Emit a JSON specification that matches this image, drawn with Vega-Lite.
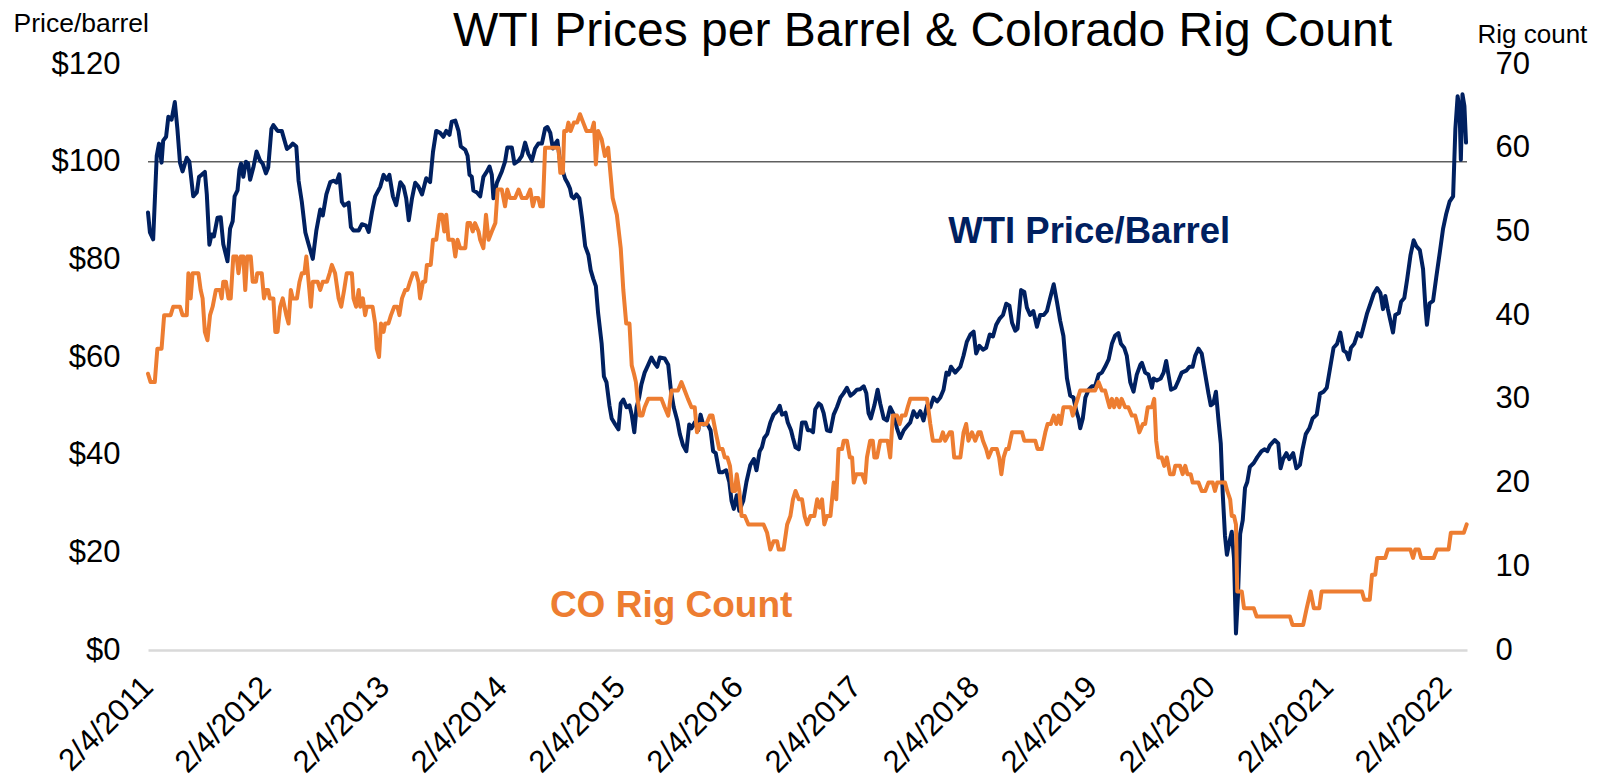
{
  "$schema": "https://vega.github.io/schema/vega-lite/v6.json",
  "width": 1319,
  "height": 586,
  "autosize": {"type": "none"},
  "padding": {"left": 148, "top": 64, "right": 130, "bottom": 131},
  "background": "white",
  "config": {"font": "Liberation Sans", "view": {"stroke": null}},
  "title": {"text": "WTI Prices per Barrel & Colorado Rig Count", "font": "Liberation Sans", "fontSize": 48, "fontWeight": "normal", "color": "#000000", "anchor": "middle", "frame": "group", "dx": 115, "dy": 103, "offset": 19, "baseline": "alphabetic"},
  "datasets": {
    "wti": [
      {"date":"2011-02-04","price":89.6},{"date":"2011-02-10","price":85.5},{"date":"2011-02-20","price":84.1},{"date":"2011-03-03","price":101.2},{"date":"2011-03-10","price":103.7},{"date":"2011-03-18","price":99.8},{"date":"2011-03-23","price":104.3},{"date":"2011-04-01","price":105.1},{"date":"2011-04-08","price":109.2},{"date":"2011-04-18","price":108.6},{"date":"2011-04-28","price":112.2},{"date":"2011-05-06","price":106.7},{"date":"2011-05-14","price":99.8},{"date":"2011-05-22","price":98.0},{"date":"2011-06-04","price":100.8},{"date":"2011-06-12","price":100.0},{"date":"2011-06-24","price":92.9},{"date":"2011-07-05","price":93.7},{"date":"2011-07-12","price":96.9},{"date":"2011-07-20","price":97.3},{"date":"2011-07-30","price":97.9},{"date":"2011-08-05","price":93.3},{"date":"2011-08-13","price":83.0},{"date":"2011-08-20","price":85.1},{"date":"2011-08-27","price":84.7},{"date":"2011-09-07","price":88.5},{"date":"2011-09-17","price":88.6},{"date":"2011-09-25","price":83.1},{"date":"2011-10-08","price":79.6},{"date":"2011-10-16","price":86.3},{"date":"2011-10-24","price":87.8},{"date":"2011-10-30","price":92.9},{"date":"2011-11-08","price":94.1},{"date":"2011-11-14","price":98.4},{"date":"2011-11-19","price":99.6},{"date":"2011-11-26","price":96.9},{"date":"2011-12-04","price":100.0},{"date":"2011-12-11","price":99.6},{"date":"2011-12-17","price":96.3},{"date":"2011-12-27","price":98.8},{"date":"2012-01-06","price":102.1},{"date":"2012-01-17","price":100.2},{"date":"2012-01-25","price":99.6},{"date":"2012-02-04","price":97.6},{"date":"2012-02-11","price":98.8},{"date":"2012-02-21","price":106.7},{"date":"2012-02-27","price":107.5},{"date":"2012-03-11","price":106.3},{"date":"2012-03-24","price":106.3},{"date":"2012-04-09","price":102.6},{"date":"2012-04-19","price":103.1},{"date":"2012-04-27","price":103.7},{"date":"2012-05-08","price":103.1},{"date":"2012-05-15","price":96.1},{"date":"2012-05-25","price":91.8},{"date":"2012-06-05","price":85.5},{"date":"2012-06-15","price":83.1},{"date":"2012-06-28","price":80.1},{"date":"2012-07-09","price":85.9},{"date":"2012-07-21","price":90.2},{"date":"2012-07-29","price":89.0},{"date":"2012-08-09","price":93.3},{"date":"2012-08-21","price":95.8},{"date":"2012-08-31","price":96.1},{"date":"2012-09-09","price":95.7},{"date":"2012-09-18","price":97.4},{"date":"2012-09-26","price":91.8},{"date":"2012-10-03","price":91.0},{"date":"2012-10-17","price":91.6},{"date":"2012-10-24","price":86.6},{"date":"2012-11-01","price":85.9},{"date":"2012-11-17","price":85.9},{"date":"2012-11-27","price":87.2},{"date":"2012-12-10","price":86.9},{"date":"2012-12-18","price":85.6},{"date":"2012-12-28","price":89.6},{"date":"2013-01-07","price":92.9},{"date":"2013-01-23","price":94.9},{"date":"2013-02-02","price":97.3},{"date":"2013-02-12","price":96.3},{"date":"2013-02-20","price":97.3},{"date":"2013-03-03","price":92.9},{"date":"2013-03-13","price":91.1},{"date":"2013-03-26","price":95.8},{"date":"2013-04-05","price":94.9},{"date":"2013-04-13","price":92.5},{"date":"2013-04-21","price":88.0},{"date":"2013-05-01","price":92.5},{"date":"2013-05-11","price":95.7},{"date":"2013-05-21","price":94.9},{"date":"2013-06-01","price":93.3},{"date":"2013-06-14","price":96.6},{"date":"2013-06-26","price":95.8},{"date":"2013-07-05","price":102.0},{"date":"2013-07-15","price":106.3},{"date":"2013-07-27","price":105.9},{"date":"2013-08-06","price":105.1},{"date":"2013-08-15","price":106.3},{"date":"2013-08-25","price":105.5},{"date":"2013-09-01","price":108.2},{"date":"2013-09-12","price":108.4},{"date":"2013-09-22","price":106.3},{"date":"2013-09-29","price":103.1},{"date":"2013-10-13","price":102.4},{"date":"2013-10-20","price":101.2},{"date":"2013-10-26","price":97.3},{"date":"2013-11-02","price":96.9},{"date":"2013-11-07","price":94.1},{"date":"2013-11-18","price":93.7},{"date":"2013-11-28","price":92.9},
      {"date":"2013-12-08","price":96.9},{"date":"2013-12-19","price":98.0},{"date":"2013-12-27","price":99.0},{"date":"2014-01-03","price":97.3},{"date":"2014-01-08","price":92.5},{"date":"2014-01-19","price":95.7},{"date":"2014-02-03","price":98.0},{"date":"2014-02-13","price":100.0},{"date":"2014-02-20","price":102.9},{"date":"2014-03-06","price":102.9},{"date":"2014-03-14","price":99.6},{"date":"2014-03-27","price":100.2},{"date":"2014-04-06","price":101.2},{"date":"2014-04-16","price":103.9},{"date":"2014-04-26","price":101.6},{"date":"2014-05-07","price":100.2},{"date":"2014-05-17","price":102.7},{"date":"2014-05-27","price":103.7},{"date":"2014-06-07","price":103.7},{"date":"2014-06-17","price":106.8},{"date":"2014-06-24","price":107.1},{"date":"2014-07-03","price":105.9},{"date":"2014-07-11","price":102.7},{"date":"2014-07-18","price":103.7},{"date":"2014-07-25","price":104.3},{"date":"2014-08-03","price":99.6},{"date":"2014-08-11","price":98.0},{"date":"2014-08-18","price":96.5},{"date":"2014-08-25","price":95.7},{"date":"2014-09-02","price":94.5},{"date":"2014-09-07","price":92.9},{"date":"2014-09-14","price":92.5},{"date":"2014-09-22","price":93.3},{"date":"2014-10-01","price":92.5},{"date":"2014-10-09","price":88.6},{"date":"2014-10-19","price":82.7},{"date":"2014-10-29","price":80.9},{"date":"2014-11-05","price":77.8},{"date":"2014-11-13","price":76.0},{"date":"2014-11-21","price":74.5},{"date":"2014-11-28","price":69.0},{"date":"2014-12-09","price":62.7},{"date":"2014-12-16","price":56.0},{"date":"2014-12-24","price":54.8},{"date":"2015-01-02","price":50.1},{"date":"2015-01-09","price":47.4},{"date":"2015-01-20","price":46.2},{"date":"2015-01-30","price":45.2},{"date":"2015-02-06","price":50.5},{"date":"2015-02-14","price":51.3},{"date":"2015-02-24","price":49.7},{"date":"2015-03-05","price":50.1},{"date":"2015-03-12","price":48.2},{"date":"2015-03-20","price":44.6},{"date":"2015-03-27","price":49.7},{"date":"2015-04-04","price":51.7},{"date":"2015-04-11","price":54.4},{"date":"2015-04-21","price":56.8},{"date":"2015-05-02","price":58.4},{"date":"2015-05-12","price":59.9},{"date":"2015-05-22","price":58.7},{"date":"2015-05-30","price":58.0},{"date":"2015-06-07","price":59.9},{"date":"2015-06-22","price":59.7},{"date":"2015-07-03","price":58.4},{"date":"2015-07-11","price":53.3},{"date":"2015-07-20","price":49.7},{"date":"2015-07-31","price":47.0},{"date":"2015-08-08","price":44.2},{"date":"2015-08-18","price":41.9},{"date":"2015-08-28","price":40.7},{"date":"2015-09-06","price":46.2},{"date":"2015-09-13","price":45.4},{"date":"2015-09-23","price":46.6},{"date":"2015-10-04","price":45.0},{"date":"2015-10-11","price":48.2},{"date":"2015-10-19","price":46.2},{"date":"2015-11-01","price":46.3},{"date":"2015-11-11","price":45.0},{"date":"2015-11-19","price":40.7},{"date":"2015-11-27","price":40.3},{"date":"2015-12-08","price":36.4},{"date":"2015-12-18","price":36.4},{"date":"2015-12-29","price":36.8},{"date":"2016-01-08","price":34.4},{"date":"2016-01-15","price":30.5},{"date":"2016-01-22","price":28.9},{"date":"2016-01-31","price":31.7},{"date":"2016-02-08","price":28.5},{"date":"2016-02-15","price":29.7},{"date":"2016-02-20","price":30.5},{"date":"2016-03-01","price":34.4},{"date":"2016-03-13","price":37.9},{"date":"2016-03-24","price":39.1},{"date":"2016-04-01","price":36.8},{"date":"2016-04-11","price":40.7},{"date":"2016-04-18","price":41.5},{"date":"2016-04-25","price":43.4},{"date":"2016-05-04","price":44.2},{"date":"2016-05-14","price":46.6},{"date":"2016-05-24","price":48.2},{"date":"2016-06-04","price":48.9},{"date":"2016-06-12","price":50.0},{"date":"2016-06-19","price":48.2},{"date":"2016-06-30","price":48.6},{"date":"2016-07-07","price":46.6},{"date":"2016-07-17","price":45.0},{"date":"2016-07-23","price":43.4},{"date":"2016-07-31","price":41.5},{"date":"2016-08-10","price":41.1},{"date":"2016-08-20","price":46.6},{"date":"2016-08-31","price":46.6},{"date":"2016-09-07","price":45.0},{"date":"2016-09-15","price":45.0},
      {"date":"2016-09-23","price":44.6},{"date":"2016-09-30","price":49.3},{"date":"2016-10-11","price":50.5},{"date":"2016-10-18","price":50.1},{"date":"2016-10-26","price":48.5},{"date":"2016-11-05","price":45.0},{"date":"2016-11-16","price":44.8},{"date":"2016-11-26","price":48.2},{"date":"2016-12-06","price":49.7},{"date":"2016-12-17","price":51.7},{"date":"2016-12-27","price":52.6},{"date":"2017-01-06","price":53.7},{"date":"2017-01-17","price":52.1},{"date":"2017-01-27","price":52.6},{"date":"2017-02-06","price":53.3},{"date":"2017-02-16","price":53.4},{"date":"2017-02-27","price":54.0},{"date":"2017-03-07","price":52.6},{"date":"2017-03-14","price":48.5},{"date":"2017-03-21","price":47.4},{"date":"2017-04-01","price":50.1},{"date":"2017-04-11","price":53.3},{"date":"2017-04-19","price":50.5},{"date":"2017-04-30","price":47.4},{"date":"2017-05-10","price":47.0},{"date":"2017-05-20","price":49.7},{"date":"2017-05-31","price":48.2},{"date":"2017-06-10","price":45.4},{"date":"2017-06-20","price":43.4},{"date":"2017-07-01","price":45.0},{"date":"2017-07-11","price":45.8},{"date":"2017-07-21","price":46.6},{"date":"2017-07-31","price":48.9},{"date":"2017-08-11","price":47.7},{"date":"2017-08-21","price":48.9},{"date":"2017-08-31","price":47.0},{"date":"2017-09-11","price":50.1},{"date":"2017-09-21","price":49.7},{"date":"2017-10-01","price":51.7},{"date":"2017-10-12","price":50.9},{"date":"2017-10-22","price":51.7},{"date":"2017-11-01","price":53.3},{"date":"2017-11-10","price":56.8},{"date":"2017-11-17","price":56.4},{"date":"2017-11-24","price":58.0},{"date":"2017-12-07","price":56.8},{"date":"2017-12-23","price":58.0},{"date":"2018-01-02","price":60.3},{"date":"2018-01-12","price":63.1},{"date":"2018-01-23","price":64.6},{"date":"2018-02-02","price":65.2},{"date":"2018-02-10","price":60.7},{"date":"2018-02-20","price":62.3},{"date":"2018-03-03","price":61.5},{"date":"2018-03-13","price":61.9},{"date":"2018-03-24","price":64.6},{"date":"2018-04-03","price":64.2},{"date":"2018-04-13","price":66.6},{"date":"2018-04-23","price":67.8},{"date":"2018-05-04","price":68.6},{"date":"2018-05-14","price":70.9},{"date":"2018-05-24","price":70.5},{"date":"2018-06-01","price":67.0},{"date":"2018-06-11","price":65.4},{"date":"2018-06-18","price":65.8},{"date":"2018-06-29","price":73.7},{"date":"2018-07-09","price":73.3},{"date":"2018-07-17","price":70.1},{"date":"2018-07-27","price":68.6},{"date":"2018-08-06","price":69.4},{"date":"2018-08-17","price":66.2},{"date":"2018-08-27","price":68.6},{"date":"2018-09-07","price":68.6},{"date":"2018-09-17","price":69.4},{"date":"2018-09-27","price":72.1},{"date":"2018-10-08","price":74.9},{"date":"2018-10-18","price":71.3},{"date":"2018-10-28","price":67.4},{"date":"2018-11-07","price":64.3},{"date":"2018-11-18","price":55.6},{"date":"2018-11-28","price":52.1},{"date":"2018-12-08","price":51.7},{"date":"2018-12-17","price":48.9},{"date":"2018-12-24","price":47.4},{"date":"2018-12-29","price":45.4},{"date":"2019-01-06","price":47.4},{"date":"2019-01-14","price":51.7},{"date":"2019-01-24","price":53.3},{"date":"2019-02-03","price":54.0},{"date":"2019-02-13","price":54.0},{"date":"2019-02-24","price":56.4},{"date":"2019-03-06","price":56.8},{"date":"2019-03-16","price":58.0},{"date":"2019-03-27","price":59.5},{"date":"2019-04-06","price":62.7},{"date":"2019-04-16","price":64.4},{"date":"2019-04-26","price":64.9},{"date":"2019-05-04","price":62.7},{"date":"2019-05-14","price":61.9},{"date":"2019-05-22","price":60.3},{"date":"2019-06-02","price":54.8},{"date":"2019-06-12","price":52.9},{"date":"2019-06-22","price":56.4},{"date":"2019-07-03","price":58.4},
      {"date":"2019-07-08","price":58.8},{"date":"2019-07-18","price":56.8},{"date":"2019-07-28","price":56.4},{"date":"2019-08-08","price":53.7},{"date":"2019-08-13","price":55.6},{"date":"2019-08-23","price":55.2},{"date":"2019-09-04","price":55.6},{"date":"2019-09-13","price":56.8},{"date":"2019-09-21","price":59.2},{"date":"2019-09-28","price":56.4},{"date":"2019-10-06","price":53.3},{"date":"2019-10-19","price":53.7},{"date":"2019-10-29","price":55.2},{"date":"2019-11-08","price":56.8},{"date":"2019-11-22","price":57.2},{"date":"2019-12-02","price":58.0},{"date":"2019-12-12","price":58.0},{"date":"2019-12-20","price":60.3},{"date":"2019-12-30","price":61.7},{"date":"2020-01-09","price":60.7},{"date":"2020-01-20","price":56.4},{"date":"2020-01-30","price":52.5},{"date":"2020-02-06","price":50.1},{"date":"2020-02-14","price":50.5},{"date":"2020-02-22","price":52.9},{"date":"2020-03-01","price":47.0},{"date":"2020-03-08","price":42.3},{"date":"2020-03-14","price":32.1},{"date":"2020-03-21","price":23.4},{"date":"2020-03-27","price":19.5},{"date":"2020-04-04","price":22.2},{"date":"2020-04-11","price":24.2},{"date":"2020-04-18","price":18.7},{"date":"2020-04-24","price":3.4},{"date":"2020-04-30","price":10.8},{"date":"2020-05-07","price":23.8},{"date":"2020-05-15","price":26.6},{"date":"2020-05-22","price":33.2},{"date":"2020-05-29","price":34.4},{"date":"2020-06-06","price":37.5},{"date":"2020-06-18","price":38.3},{"date":"2020-06-29","price":39.5},{"date":"2020-07-12","price":40.7},{"date":"2020-07-22","price":41.1},{"date":"2020-07-30","price":40.7},{"date":"2020-08-07","price":41.9},{"date":"2020-08-22","price":43.0},{"date":"2020-09-02","price":42.3},{"date":"2020-09-09","price":37.2},{"date":"2020-09-17","price":39.1},{"date":"2020-09-27","price":40.3},{"date":"2020-10-06","price":39.1},{"date":"2020-10-18","price":40.3},{"date":"2020-10-28","price":37.2},{"date":"2020-11-08","price":37.9},{"date":"2020-11-16","price":41.1},{"date":"2020-11-26","price":44.2},{"date":"2020-12-07","price":45.4},{"date":"2020-12-17","price":47.4},{"date":"2020-12-30","price":48.2},{"date":"2021-01-09","price":52.5},{"date":"2021-01-20","price":52.9},{"date":"2021-01-30","price":53.7},{"date":"2021-02-10","price":58.0},{"date":"2021-02-20","price":61.9},{"date":"2021-03-03","price":62.7},{"date":"2021-03-13","price":65.0},{"date":"2021-03-23","price":61.3},{"date":"2021-04-01","price":60.9},{"date":"2021-04-08","price":59.5},{"date":"2021-04-15","price":61.9},{"date":"2021-04-25","price":62.7},{"date":"2021-05-06","price":64.9},{"date":"2021-05-16","price":64.2},{"date":"2021-05-24","price":66.2},{"date":"2021-06-04","price":69.0},{"date":"2021-06-14","price":70.9},{"date":"2021-06-24","price":72.9},{"date":"2021-07-05","price":74.1},{"date":"2021-07-15","price":73.1},{"date":"2021-07-23","price":69.8},{"date":"2021-07-30","price":72.5},{"date":"2021-08-07","price":69.8},{"date":"2021-08-15","price":67.4},{"date":"2021-08-23","price":65.0},{"date":"2021-08-30","price":68.6},{"date":"2021-09-10","price":69.0},{"date":"2021-09-17","price":71.3},{"date":"2021-09-27","price":72.1},{"date":"2021-10-06","price":76.0},{"date":"2021-10-16","price":80.8},{"date":"2021-10-26","price":83.9},{"date":"2021-11-03","price":82.7},{"date":"2021-11-14","price":81.9},{"date":"2021-11-24","price":78.0},{"date":"2021-12-01","price":70.5},{"date":"2021-12-06","price":66.6},{"date":"2021-12-14","price":71.0},{"date":"2021-12-25","price":71.5},{"date":"2022-01-04","price":76.4},{"date":"2022-01-15","price":81.5},{"date":"2022-01-25","price":86.3},{"date":"2022-02-04","price":89.4},{"date":"2022-02-14","price":91.8},{"date":"2022-02-25","price":92.9},{"date":"2022-03-04","price":106.7},{"date":"2022-03-11","price":113.4},{"date":"2022-03-17","price":110.6},{"date":"2022-03-21","price":100.4},{"date":"2022-03-26","price":113.8},{"date":"2022-04-01","price":111.4},{"date":"2022-04-06","price":103.9}
    ],
    "rig": [
      {"date":"2011-02-04","rigs":33},{"date":"2011-02-12","rigs":32},{"date":"2011-02-25","rigs":32},{"date":"2011-03-05","rigs":36},{"date":"2011-03-18","rigs":36},{"date":"2011-03-26","rigs":40},{"date":"2011-04-15","rigs":40},{"date":"2011-04-23","rigs":41},{"date":"2011-05-14","rigs":41},{"date":"2011-05-22","rigs":40},{"date":"2011-06-04","rigs":40},{"date":"2011-06-09","rigs":45},{"date":"2011-06-16","rigs":42},{"date":"2011-06-22","rigs":45},{"date":"2011-07-10","rigs":45},{"date":"2011-07-17","rigs":43},{"date":"2011-07-23","rigs":42},{"date":"2011-07-30","rigs":38},{"date":"2011-08-07","rigs":37},{"date":"2011-08-15","rigs":40},{"date":"2011-08-23","rigs":41},{"date":"2011-09-02","rigs":43},{"date":"2011-09-15","rigs":43},{"date":"2011-09-20","rigs":42},{"date":"2011-09-25","rigs":44},{"date":"2011-10-03","rigs":44},{"date":"2011-10-11","rigs":42},{"date":"2011-10-18","rigs":42},{"date":"2011-10-26","rigs":47},{"date":"2011-11-05","rigs":47},{"date":"2011-11-11","rigs":45},{"date":"2011-11-18","rigs":47},{"date":"2011-11-26","rigs":47},{"date":"2011-12-02","rigs":43},{"date":"2011-12-08","rigs":47},{"date":"2011-12-19","rigs":47},{"date":"2011-12-25","rigs":44},{"date":"2012-01-04","rigs":44},{"date":"2012-01-08","rigs":45},{"date":"2012-01-22","rigs":45},{"date":"2012-01-29","rigs":42},{"date":"2012-02-04","rigs":43},{"date":"2012-02-11","rigs":43},{"date":"2012-02-16","rigs":42},{"date":"2012-02-27","rigs":42},{"date":"2012-03-04","rigs":38},{"date":"2012-03-11","rigs":38},{"date":"2012-03-19","rigs":41},{"date":"2012-03-27","rigs":42},{"date":"2012-04-07","rigs":40},{"date":"2012-04-14","rigs":39},{"date":"2012-04-21","rigs":43},{"date":"2012-04-27","rigs":42},{"date":"2012-05-10","rigs":42},{"date":"2012-05-18","rigs":44},{"date":"2012-05-25","rigs":45},{"date":"2012-06-02","rigs":45},{"date":"2012-06-08","rigs":47},{"date":"2012-06-15","rigs":44},{"date":"2012-06-22","rigs":41},{"date":"2012-06-28","rigs":44},{"date":"2012-07-13","rigs":44},{"date":"2012-07-21","rigs":43},{"date":"2012-07-29","rigs":44},{"date":"2012-08-11","rigs":44},{"date":"2012-08-19","rigs":45},{"date":"2012-08-26","rigs":46},{"date":"2012-09-05","rigs":45},{"date":"2012-09-16","rigs":42},{"date":"2012-09-24","rigs":41},{"date":"2012-10-03","rigs":43},{"date":"2012-10-11","rigs":45},{"date":"2012-10-27","rigs":45},{"date":"2012-11-01","rigs":42},{"date":"2012-11-09","rigs":41},{"date":"2012-11-17","rigs":43},{"date":"2012-11-22","rigs":41},{"date":"2012-11-30","rigs":42},{"date":"2012-12-07","rigs":40},{"date":"2012-12-12","rigs":41},{"date":"2012-12-30","rigs":41},{"date":"2013-01-07","rigs":39},{"date":"2013-01-12","rigs":36},{"date":"2013-01-19","rigs":35},{"date":"2013-01-25","rigs":39},{"date":"2013-02-02","rigs":38},{"date":"2013-02-07","rigs":39},{"date":"2013-02-17","rigs":39},{"date":"2013-02-25","rigs":40},{"date":"2013-03-07","rigs":41},{"date":"2013-03-17","rigs":41},{"date":"2013-03-23","rigs":40},{"date":"2013-03-31","rigs":42},{"date":"2013-04-10","rigs":43},{"date":"2013-04-17","rigs":43},{"date":"2013-04-25","rigs":44},{"date":"2013-05-04","rigs":45},{"date":"2013-05-14","rigs":45},{"date":"2013-05-21","rigs":44},{"date":"2013-05-26","rigs":42},{"date":"2013-06-04","rigs":44},{"date":"2013-06-11","rigs":44},{"date":"2013-06-16","rigs":46},{"date":"2013-06-28","rigs":46},{"date":"2013-07-05","rigs":49},{"date":"2013-07-15","rigs":49},{"date":"2013-07-25","rigs":52},{"date":"2013-08-02","rigs":52},{"date":"2013-08-09","rigs":50},{"date":"2013-08-15","rigs":52},{"date":"2013-08-22","rigs":49},{"date":"2013-09-05","rigs":49},{"date":"2013-09-12","rigs":47},{"date":"2013-09-19","rigs":49},{"date":"2013-09-27","rigs":48},{"date":"2013-10-13","rigs":48},{"date":"2013-10-20","rigs":51},{"date":"2013-10-28","rigs":51},{"date":"2013-11-05","rigs":50},{"date":"2013-11-12","rigs":51},{"date":"2013-11-23","rigs":50},{"date":"2013-11-28","rigs":49},{"date":"2013-12-08","rigs":48},{"date":"2013-12-16","rigs":52},{"date":"2013-12-24","rigs":49},{"date":"2014-01-03","rigs":50},{"date":"2014-01-14","rigs":51},{"date":"2014-01-21","rigs":55},{"date":"2014-02-03","rigs":55},{"date":"2014-02-13","rigs":53},{"date":"2014-02-20","rigs":55},{"date":"2014-02-28","rigs":54},{"date":"2014-03-16","rigs":54},{"date":"2014-03-27","rigs":55},{"date":"2014-04-06","rigs":54},{"date":"2014-04-21","rigs":54},{"date":"2014-05-02","rigs":55},{"date":"2014-05-10","rigs":53},{"date":"2014-05-17","rigs":54},{"date":"2014-05-27","rigs":54},{"date":"2014-06-02","rigs":53},{"date":"2014-06-10","rigs":53},{"date":"2014-06-17","rigs":60},{"date":"2014-07-28","rigs":60},{"date":"2014-08-03","rigs":57},{"date":"2014-08-11","rigs":57},{"date":"2014-08-15","rigs":62},{"date":"2014-08-23","rigs":62},{"date":"2014-08-28","rigs":63},{"date":"2014-09-04","rigs":62},{"date":"2014-09-14","rigs":63},{"date":"2014-09-24","rigs":63},{"date":"2014-10-03","rigs":64},{"date":"2014-10-13","rigs":63},{"date":"2014-10-23","rigs":62},{"date":"2014-11-08","rigs":62},{"date":"2014-11-15","rigs":63},{"date":"2014-11-21","rigs":58},{"date":"2014-11-28","rigs":62},{"date":"2014-12-09","rigs":61},{"date":"2014-12-19","rigs":59},{"date":"2014-12-29","rigs":60},{"date":"2015-01-12","rigs":54},{"date":"2015-01-25","rigs":52},{"date":"2015-02-06","rigs":48},{"date":"2015-02-14","rigs":43},{"date":"2015-02-23","rigs":39},{"date":"2015-03-05","rigs":39},{"date":"2015-03-12","rigs":34},{"date":"2015-03-19","rigs":33},{"date":"2015-03-25","rigs":32},{"date":"2015-03-30","rigs":30},{"date":"2015-04-06","rigs":28},{"date":"2015-04-14","rigs":28},{"date":"2015-04-21","rigs":29},{"date":"2015-05-02","rigs":30},{"date":"2015-06-12","rigs":30},{"date":"2015-06-22","rigs":29},{"date":"2015-07-03","rigs":28},{"date":"2015-07-13","rigs":31},{"date":"2015-08-02","rigs":31},{"date":"2015-08-13","rigs":32},{"date":"2015-08-23","rigs":31},{"date":"2015-09-02","rigs":30},{"date":"2015-09-13","rigs":29},{"date":"2015-09-23","rigs":29},{"date":"2015-09-30","rigs":26},{"date":"2015-10-09","rigs":27},{"date":"2015-10-29","rigs":27},{"date":"2015-11-09","rigs":28},{"date":"2015-11-17","rigs":28},{"date":"2015-11-27","rigs":26},{"date":"2015-12-08","rigs":24},{"date":"2015-12-18","rigs":24},{"date":"2015-12-25","rigs":23},{"date":"2016-01-02","rigs":23},{"date":"2016-01-10","rigs":22},{"date":"2016-01-18","rigs":19},{"date":"2016-01-26","rigs":19},{"date":"2016-01-31","rigs":21},{"date":"2016-02-08","rigs":19},{"date":"2016-02-15","rigs":16},{"date":"2016-02-25","rigs":16},{"date":"2016-03-07","rigs":15},{"date":"2016-04-23","rigs":15},{"date":"2016-05-04","rigs":14},{"date":"2016-05-14","rigs":12},{"date":"2016-05-24","rigs":13},{"date":"2016-06-04","rigs":13},{"date":"2016-06-09","rigs":12},{"date":"2016-06-24","rigs":12},{"date":"2016-07-05","rigs":15},{"date":"2016-07-15","rigs":16},{"date":"2016-07-23","rigs":18},{"date":"2016-07-31","rigs":19},{"date":"2016-08-10","rigs":18},{"date":"2016-08-20","rigs":18},{"date":"2016-08-28","rigs":16},{"date":"2016-09-05","rigs":15},{"date":"2016-09-15","rigs":16},{"date":"2016-09-27","rigs":16},{"date":"2016-10-06","rigs":18},{"date":"2016-10-14","rigs":17},{"date":"2016-10-21","rigs":18},{"date":"2016-10-28","rigs":15},{"date":"2016-11-05","rigs":16},{"date":"2016-11-16","rigs":16},{"date":"2016-11-26","rigs":20},{"date":"2016-12-04","rigs":18},{"date":"2016-12-11","rigs":24},{"date":"2016-12-22","rigs":24},{"date":"2016-12-27","rigs":25},{"date":"2017-01-06","rigs":25},{"date":"2017-01-15","rigs":23},{"date":"2017-01-22","rigs":23},{"date":"2017-01-27","rigs":20},{"date":"2017-02-04","rigs":21},{"date":"2017-02-22","rigs":21},{"date":"2017-03-03","rigs":20},{"date":"2017-03-09","rigs":23},{"date":"2017-03-19","rigs":25},{"date":"2017-03-27","rigs":25},{"date":"2017-04-01","rigs":23},{"date":"2017-04-09","rigs":23},{"date":"2017-04-19","rigs":25},{"date":"2017-05-12","rigs":25},{"date":"2017-05-20","rigs":23},{"date":"2017-05-28","rigs":28},{"date":"2017-06-10","rigs":28},{"date":"2017-06-18","rigs":27},{"date":"2017-06-25","rigs":28},{"date":"2017-07-06","rigs":28},{"date":"2017-07-13","rigs":29},{"date":"2017-07-21","rigs":30},{"date":"2017-09-11","rigs":30},{"date":"2017-09-21","rigs":27},{"date":"2017-09-29","rigs":25},{"date":"2017-10-22","rigs":25},{"date":"2017-10-30","rigs":26},{"date":"2017-11-06","rigs":25},{"date":"2017-11-20","rigs":26},{"date":"2017-11-27","rigs":26},{"date":"2017-12-04","rigs":23},{"date":"2017-12-23","rigs":23},{"date":"2018-01-02","rigs":26},{"date":"2018-01-10","rigs":27},{"date":"2018-01-17","rigs":25},{"date":"2018-01-28","rigs":26},{"date":"2018-02-07","rigs":25},{"date":"2018-02-17","rigs":26},{"date":"2018-02-24","rigs":26},{"date":"2018-03-03","rigs":25},{"date":"2018-03-13","rigs":24},{"date":"2018-03-20","rigs":23},{"date":"2018-03-31","rigs":24},{"date":"2018-04-15","rigs":24},{"date":"2018-04-22","rigs":23},{"date":"2018-04-29","rigs":21},{"date":"2018-05-06","rigs":23},{"date":"2018-05-14","rigs":24},{"date":"2018-05-21","rigs":24},{"date":"2018-06-01","rigs":26},{"date":"2018-07-02","rigs":26},{"date":"2018-07-09","rigs":25},{"date":"2018-08-12","rigs":25},{"date":"2018-08-19","rigs":24},{"date":"2018-09-01","rigs":24},{"date":"2018-09-12","rigs":26},{"date":"2018-09-19","rigs":27},{"date":"2018-09-29","rigs":27},{"date":"2018-10-08","rigs":28},{"date":"2018-10-16","rigs":27},{"date":"2018-10-23","rigs":28},{"date":"2018-10-30","rigs":27},{"date":"2018-11-07","rigs":29},{"date":"2018-11-30","rigs":29},{"date":"2018-12-06","rigs":28},{"date":"2018-12-13","rigs":29},{"date":"2018-12-21","rigs":30},{"date":"2018-12-29","rigs":31},{"date":"2019-02-13","rigs":31},{"date":"2019-02-24","rigs":32},{"date":"2019-03-06","rigs":31},{"date":"2019-03-16","rigs":31},{"date":"2019-03-23","rigs":30},{"date":"2019-03-30","rigs":29},{"date":"2019-04-06","rigs":30},{"date":"2019-04-13","rigs":29},{"date":"2019-04-21","rigs":30},{"date":"2019-04-29","rigs":29},{"date":"2019-05-06","rigs":30},{"date":"2019-05-17","rigs":29},{"date":"2019-05-27","rigs":29},{"date":"2019-06-07","rigs":28},{"date":"2019-06-17","rigs":28},{"date":"2019-06-24","rigs":27},{"date":"2019-06-30","rigs":26},{"date":"2019-07-11","rigs":27},{"date":"2019-07-18","rigs":27},{"date":"2019-07-26","rigs":29},{"date":"2019-08-08","rigs":29},{"date":"2019-08-15","rigs":30},{"date":"2019-08-21","rigs":25},{"date":"2019-08-28","rigs":23},{"date":"2019-09-07","rigs":23},{"date":"2019-09-15","rigs":22},{"date":"2019-09-23","rigs":23},{"date":"2019-10-03","rigs":21},{"date":"2019-10-14","rigs":21},{"date":"2019-10-19","rigs":22},{"date":"2019-11-03","rigs":22},{"date":"2019-11-11","rigs":21},{"date":"2019-11-19","rigs":22},{"date":"2019-11-26","rigs":21},{"date":"2019-12-06","rigs":21},{"date":"2019-12-12","rigs":20},{"date":"2019-12-30","rigs":20},{"date":"2020-01-09","rigs":19},{"date":"2020-01-20","rigs":19},{"date":"2020-01-30","rigs":20},{"date":"2020-02-12","rigs":20},{"date":"2020-02-19","rigs":19},{"date":"2020-02-26","rigs":20},{"date":"2020-03-21","rigs":20},{"date":"2020-03-28","rigs":19},{"date":"2020-04-06","rigs":18},{"date":"2020-04-11","rigs":16},{"date":"2020-04-18","rigs":16},{"date":"2020-04-24","rigs":15},{"date":"2020-04-28","rigs":7},{"date":"2020-05-12","rigs":7},{"date":"2020-05-19","rigs":5},{"date":"2020-06-18","rigs":5},{"date":"2020-06-27","rigs":4},{"date":"2020-10-08","rigs":4},{"date":"2020-10-16","rigs":3},{"date":"2020-11-18","rigs":3},{"date":"2020-11-29","rigs":5},{"date":"2020-12-11","rigs":7},{"date":"2020-12-21","rigs":5},{"date":"2021-01-07","rigs":5},{"date":"2021-01-14","rigs":7},{"date":"2021-05-19","rigs":7},{"date":"2021-05-26","rigs":6},{"date":"2021-06-12","rigs":6},{"date":"2021-06-19","rigs":9},{"date":"2021-06-29","rigs":9},{"date":"2021-07-05","rigs":11},{"date":"2021-07-30","rigs":11},{"date":"2021-08-07","rigs":12},{"date":"2021-10-16","rigs":12},{"date":"2021-10-24","rigs":11},{"date":"2021-10-31","rigs":12},{"date":"2021-11-11","rigs":12},{"date":"2021-11-18","rigs":11},{"date":"2021-12-27","rigs":11},{"date":"2022-01-06","rigs":12},{"date":"2022-02-11","rigs":12},{"date":"2022-02-18","rigs":14},{"date":"2022-03-30","rigs":14},{"date":"2022-04-08","rigs":15}
    ]
  },
  "encoding": {
    "x": {"field": "date", "type": "temporal",
      "scale": {"type": "utc", "domain": ["2011-02-04", "2022-04-09"]},
      "axis": {"values": [
          {"year": 2011, "month": 2, "date": 4, "utc": true},{"year": 2012, "month": 2, "date": 4, "utc": true},{"year": 2013, "month": 2, "date": 4, "utc": true},{"year": 2014, "month": 2, "date": 4, "utc": true},{"year": 2015, "month": 2, "date": 4, "utc": true},{"year": 2016, "month": 2, "date": 4, "utc": true},{"year": 2017, "month": 2, "date": 4, "utc": true},{"year": 2018, "month": 2, "date": 4, "utc": true},{"year": 2019, "month": 2, "date": 4, "utc": true},{"year": 2020, "month": 2, "date": 4, "utc": true},{"year": 2021, "month": 2, "date": 4, "utc": true},{"year": 2022, "month": 2, "date": 4, "utc": true}],
        "labelExpr": "utcFormat(datum.value, '%-m/%-d/%Y')", "title": null,
        "labelAngle": -45, "labelAlign": "right", "labelBaseline": "middle", "labelPadding": 32,
        "labelFont": "Liberation Sans", "labelFontSize": 31, "labelColor": "#000000",
        "labelOverlap": false, "labelFlush": false, "labelBound": false,
        "ticks": false, "tickSize": 0, "grid": false,
        "domain": true, "domainColor": "#d9d9d9", "domainWidth": 2.5}
    }
  },
  "layer": [
    {
      "layer": [
        {
          "data": {"values": [{"price": 100}]},
          "mark": {"type": "rule", "color": "#5f5f5f", "strokeWidth": 1.5},
          "encoding": {"x": null, "y": {"field": "price", "type": "quantitative"}}
        },
        {
          "data": {"name": "wti"},
          "mark": {"type": "line", "color": "#002060", "strokeWidth": 4, "strokeJoin": "round", "strokeCap": "round"},
          "encoding": {
            "y": {"field": "price", "type": "quantitative",
              "scale": {"domain": [0, 120], "nice": false, "zero": true},
              "axis": {"values": [0, 20, 40, 60, 80, 100, 120], "format": "$.0f",
                "labelFont": "Liberation Sans", "labelFontSize": 31, "labelColor": "#000000", "labelPadding": 28,
                "ticks": false, "domain": false, "grid": false, "labelOverlap": false,
                "title": "Price/barrel", "titleAngle": 0, "titleX": -135, "titleY": -33,
                "titleAlign": "left", "titleBaseline": "alphabetic",
                "titleFont": "Liberation Sans", "titleFontSize": 26.5, "titleFontWeight": "normal", "titleColor": "#000000"}
            }
          }
        },
        {
          "data": {"values": [{"label": "WTI Price/Barrel", "date": "2019-01-26", "price": 83.35}]},
          "mark": {"type": "text", "color": "#002060", "font": "Liberation Sans", "fontSize": 36.5, "fontWeight": "bold", "align": "center", "baseline": "alphabetic"},
          "encoding": {"y": {"field": "price", "type": "quantitative"}, "text": {"field": "label"}}
        }
      ]
    },
    {
      "layer": [
        {
          "data": {"name": "rig"},
          "mark": {"type": "line", "color": "#ED7D31", "strokeWidth": 4, "strokeJoin": "round", "strokeCap": "round"},
          "encoding": {
            "y": {"field": "rigs", "type": "quantitative",
              "scale": {"domain": [0, 70], "nice": false},
              "axis": {"orient": "right", "values": [0, 10, 20, 30, 40, 50, 60, 70],
                "labelFont": "Liberation Sans", "labelFontSize": 31, "labelColor": "#000000", "labelPadding": 28,
                "ticks": false, "domain": false, "grid": false, "labelOverlap": false,
                "title": "Rig count", "titleAngle": 0, "titleX": 10, "titleY": -22,
                "titleAlign": "left", "titleBaseline": "alphabetic",
                "titleFont": "Liberation Sans", "titleFontSize": 26, "titleFontWeight": "normal", "titleColor": "#000000"}
            }
          }
        },
        {
          "data": {"values": [{"label": "CO Rig Count", "date": "2015-07-12", "rigs": 3.94}]},
          "mark": {"type": "text", "color": "#ED7D31", "font": "Liberation Sans", "fontSize": 37, "fontWeight": "bold", "align": "center", "baseline": "alphabetic"},
          "encoding": {"y": {"field": "rigs", "type": "quantitative"}, "text": {"field": "label"}}
        }
      ]
    }
  ],
  "resolve": {"scale": {"y": "independent"}}
}
